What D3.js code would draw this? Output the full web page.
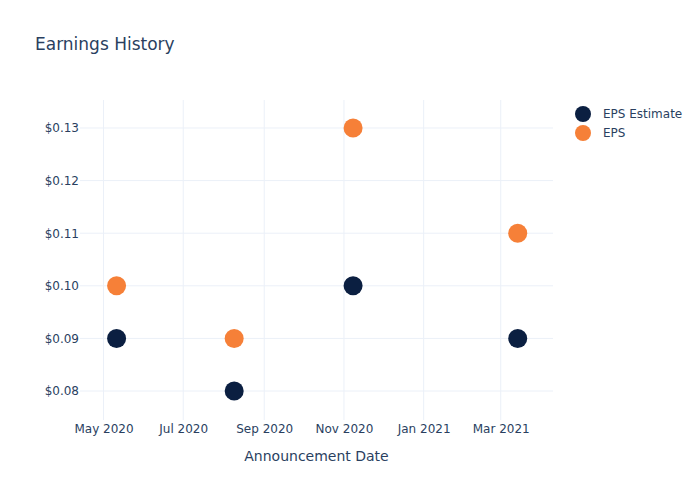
<!DOCTYPE html>
<html><head><meta charset="utf-8">
<script src="https://cdn.jsdelivr.net/npm/d3@7"></script>
<style>body{margin:0;background:#fff;} text{font-family:"DejaVu Sans",sans-serif;}</style>
</head><body>
<svg id="c" width="700" height="500"></svg>
<script>
const dates = ["2020-05-11","2020-08-09","2020-11-08","2021-03-14"];
const epsEstimate = [0.09, 0.08, 0.10, 0.09];
const eps = [0.10, 0.09, 0.13, 0.11];
const seriesNames = ["EPS Estimate","EPS"];
const seriesColors = ["#0b1f41","#f68038"];
const xTickDates = ["2020-05-01","2020-07-01","2020-09-01","2020-11-01","2021-01-01","2021-03-01"];
const yTicks = [0.08,0.09,0.10,0.11,0.12,0.13];

const parse = d3.utcParse("%Y-%m-%d");
const svg = d3.select("#c");
const L=80, R=553, T=100, B=420;
const x = d3.scaleUtc().domain([parse("2020-04-13"), parse("2021-04-10")]).range([L,R]);
const y = d3.scaleLinear().domain([0.07449,0.13532]).range([B,T]);
const txt="#2a3f5f", grid="#ebf0f8";

svg.append("g").selectAll("line").data(xTickDates).join("line")
  .attr("x1",d=>x(parse(d))).attr("x2",d=>x(parse(d))).attr("y1",T).attr("y2",B)
  .attr("stroke",grid).attr("stroke-width",1);
svg.append("g").selectAll("line").data(yTicks).join("line")
  .attr("x1",L).attr("x2",R).attr("y1",d=>y(d)).attr("y2",d=>y(d))
  .attr("stroke",grid).attr("stroke-width",1);

const xAxis = d3.axisBottom(x).tickValues(xTickDates.map(parse)).tickFormat(d3.utcFormat("%b %Y")).tickSize(0).tickPadding(4);
const gx = svg.append("g").attr("transform",`translate(0,${B})`).call(xAxis);
gx.select(".domain").remove();
gx.selectAll("text").attr("fill",txt).style("font-size","12px").style("font-family","'DejaVu Sans',sans-serif");
const yAxis = d3.axisLeft(y).tickValues(yTicks).tickFormat(d=>"$"+d3.format(".2f")(d)).tickSize(0).tickPadding(1);
const gy = svg.append("g").attr("transform",`translate(${L},0)`).call(yAxis);
gy.select(".domain").remove();
gy.selectAll("text").attr("fill",txt).style("font-size","12px").style("font-family","'DejaVu Sans',sans-serif");

const series=[epsEstimate, eps];
series.forEach((vals,i)=>{
  svg.append("g").selectAll("circle").data(vals).join("circle")
    .attr("cx",(d,j)=>x(parse(dates[j]))).attr("cy",d=>y(d)).attr("r",9.5)
    .attr("fill",seriesColors[i]);
});

svg.append("text").attr("x",35).attr("y",50).attr("fill",txt).style("font-size","17px").text("Earnings History");
svg.append("text").attr("x",(L+R)/2).attr("y",461).attr("text-anchor","middle").attr("fill",txt).style("font-size","14px").text("Announcement Date");

const lg = svg.append("g");
seriesNames.forEach((n,i)=>{
  lg.append("circle").attr("cx",583).attr("cy",114+i*19).attr("r",8).attr("fill",seriesColors[i]);
  lg.append("text").attr("x",603).attr("y",114+i*19).attr("dy","0.35em").attr("fill",txt).style("font-size","12px").text(n);
});
</script>
</body></html>
